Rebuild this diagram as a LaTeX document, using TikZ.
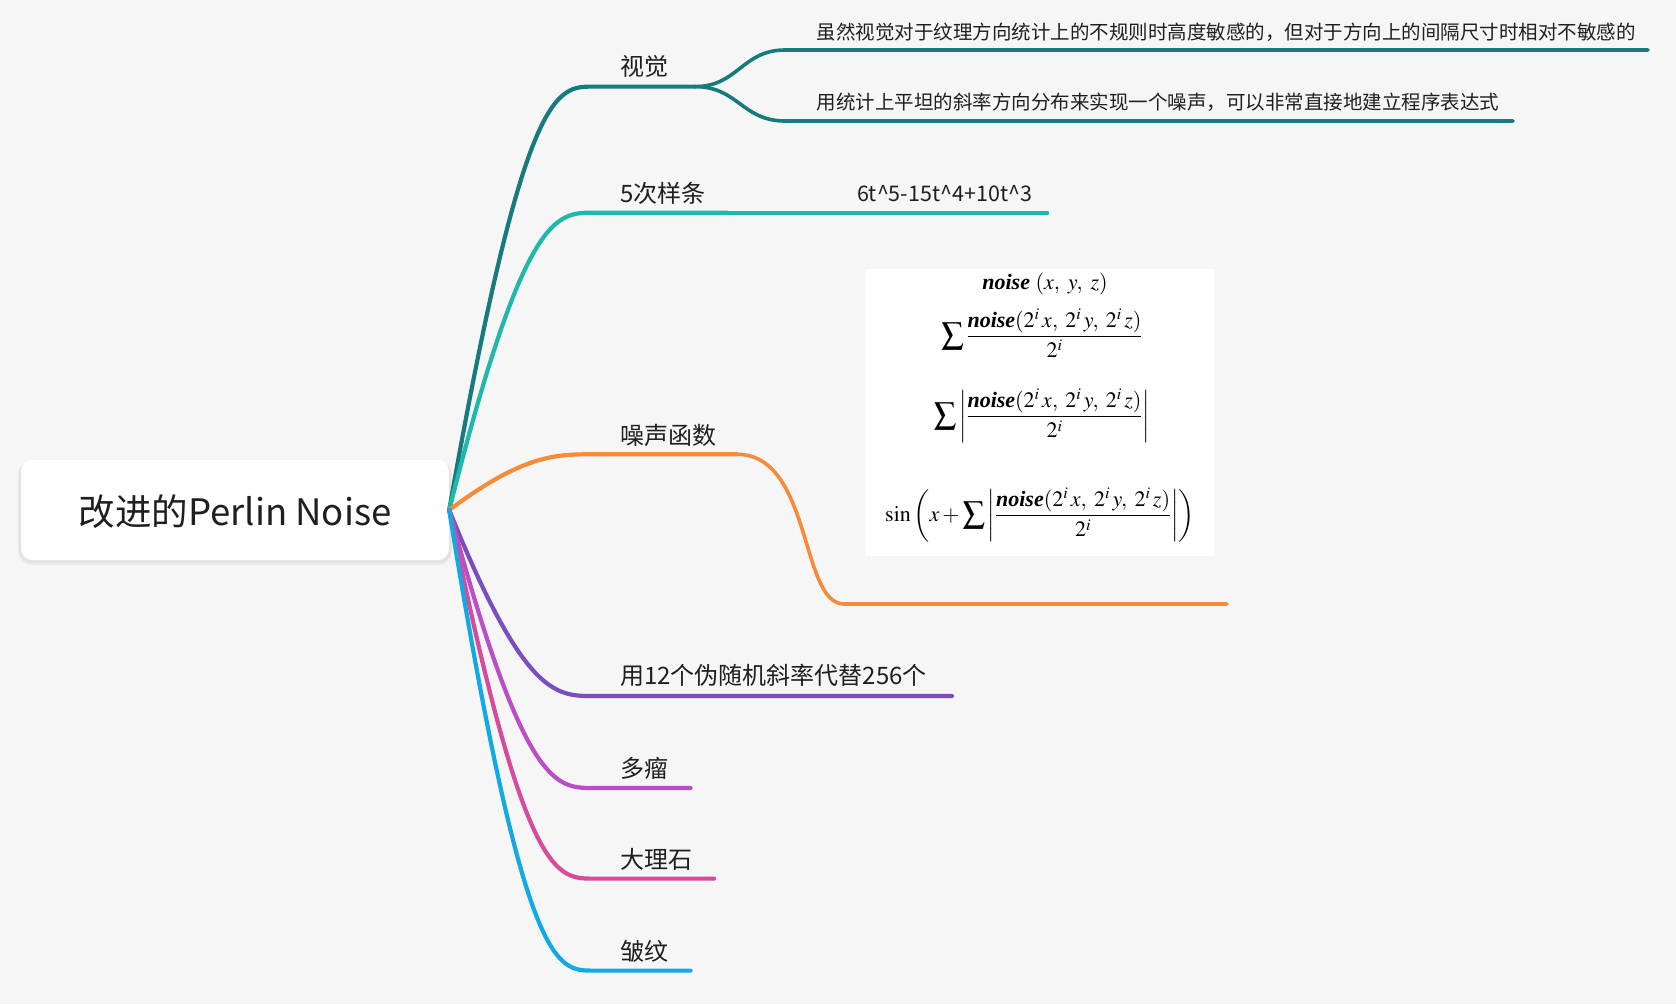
\documentclass[tikz,border=0pt]{standalone}
\usepackage{mathptmx}
\usepackage{fontspec}
\setmainfont{Liberation Serif}
\newfontfamily\cjk{Noto Sans CJK SC}
\definecolor{bg}{HTML}{F6F6F6}
\definecolor{cA}{HTML}{177A7E}
\definecolor{cB}{HTML}{1FB8AD}
\definecolor{cC}{HTML}{F58B3B}
\definecolor{cD}{HTML}{7A4EBF}
\definecolor{cE}{HTML}{B94EC6}
\definecolor{cF}{HTML}{D64B9B}
\definecolor{cG}{HTML}{13A9E5}
\definecolor{txt}{HTML}{1F1F1F}
\newcommand{\nz}{\textbf{\textit{noise}}}
\newcommand{\nzfrac}{\frac{\nz(2^i\,x,\;2^i\,y,\;2^i\,z)}{2^i}}
\begin{document}
\begin{tikzpicture}[x=1pt,y=-1pt,
  branch/.style={line width=4.2pt, line cap=round},
  leaf/.style={line width=3.6pt, line cap=round},
  lbl/.style={anchor=base west, inner sep=0pt, font=\cjk\fontsize{24}{24}\selectfont, text=txt},
  sublbl/.style={anchor=base west, inner sep=0pt, font=\cjk\fontsize{19.5}{20}\selectfont, text=txt},
  formula/.style={inner sep=0pt, font=\fontsize{22}{26}\selectfont, text=black},
  rootbox/.style={fill=white, rounded corners=11pt, minimum width=428pt, minimum height=100pt, inner sep=0pt,
     text height=31.8pt, text depth=0pt,
     font=\cjk\fontsize{36.5}{36.5}\selectfont, text=txt},
]
\path[fill=bg] (0,0) rectangle (1676,1004);
% shadow of root
\fill[black, opacity=0.04, rounded corners=13pt] (18,461) rectangle (452,565);
\fill[black, opacity=0.04, rounded corners=12pt] (19,462) rectangle (451,563);
\node[rootbox] (root) at (235,510) {改进的Perlin Noise};

% coordinates
\coordinate (A0) at (593,86.6);   \coordinate (A1) at (695,86.6);
\coordinate (A1s) at (785,50);    \coordinate (A1e) at (1648,50);
\coordinate (A2s) at (785,121);   \coordinate (A2e) at (1513,121);
\coordinate (B0) at (593,212.7);  \coordinate (B1) at (727,212.7);  \coordinate (B2) at (1047.5,212.7);
\coordinate (C0) at (593,454.3);  \coordinate (C1) at (737,454.3);
\coordinate (C2) at (844,604);    \coordinate (C3) at (1227,604);
\coordinate (D0) at (593,696);    \coordinate (D1) at (952,696);
\coordinate (E0) at (593,788);    \coordinate (E1) at (690.5,788);
\coordinate (F0) at (593,878.6);  \coordinate (F1) at (714,878.6);
\coordinate (G0) at (593,970.6);  \coordinate (G1) at (690.5,970.6);

% branches
\draw[branch,cA] (root.east) .. controls (524,86.6) and (556,86.6) .. (A0) -- (A1);
\draw[branch,cB] (root.east) .. controls (524,212.7) and (556,212.7) .. (B0) -- (B1);
\draw[branch,cC] (root.east) .. controls (524,454.3) and (556,454.3) .. (C0) -- (C1);
\draw[branch,cD] (root.east) .. controls (524,696) and (556,696) .. (D0) -- (D1);
\draw[branch,cE] (root.east) .. controls (524,788) and (556,788) .. (E0) -- (E1);
\draw[branch,cF] (root.east) .. controls (524,878.6) and (556,878.6) .. (F0) -- (F1);
\draw[branch,cG] (root.east) .. controls (524,970.6) and (556,970.6) .. (G0) -- (G1);

% leaves
\draw[leaf,cA] (A1) .. controls (738,86.6) and (742,50) .. (A1s) -- (A1e);
\draw[leaf,cA] (A1) .. controls (738,86.6) and (742,121) .. (A2s) -- (A2e);
\draw[leaf,cB] (B1) -- (B2);
\draw[leaf,cC] (C1) .. controls (812,454.3) and (800,604) .. (C2) -- (C3);

% labels
\node[lbl] (tA) at (620,75) {视觉};
\node[lbl] (tB) at (620,202.5) {5次样条};
\node[lbl] (tC) at (620,444) {噪声函数};
\node[lbl] (tD) at (620,684.5) {用12个伪随机斜率代替256个};
\node[lbl] (tE) at (620,777.5) {多瘤};
\node[lbl] (tF) at (620,868) {大理石};
\node[lbl] (tG) at (620,960) {皱纹};

\node[sublbl] (tA1) at (816.6,39.4) {虽然视觉对于纹理方向统计上的不规则时高度敏感的，但对于方向上的间隔尺寸时相对不敏感的};
\node[sublbl] (tA2) at (816.6,109) {用统计上平坦的斜率方向分布来实现一个噪声，可以非常直接地建立程序表达式};
\node[sublbl, anchor=base, font=\cjk\fontsize{21.5}{22}\selectfont] (tB1) at (944.5,201) {6t\textasciicircum5-15t\textasciicircum4+10t\textasciicircum3};

% formula image
\node[fill=white, minimum width=349pt, minimum height=287pt, inner sep=0pt] (img) at (1039.5,412.5) {};
\node[formula] (f1) at (1045,284) {$\nz\ (x,\ y,\ z)$};
\node[formula] (f2) at (1042,333) {$\displaystyle \sum\nzfrac$};
\node[formula] (f3) at (1042,416) {$\displaystyle \sum\left|\nzfrac\right|$};
\node[formula] (f4) at (1040,515) {$\displaystyle \sin\left(x+\sum\left|\nzfrac\right|\right)$};
\end{tikzpicture}
\end{document}
